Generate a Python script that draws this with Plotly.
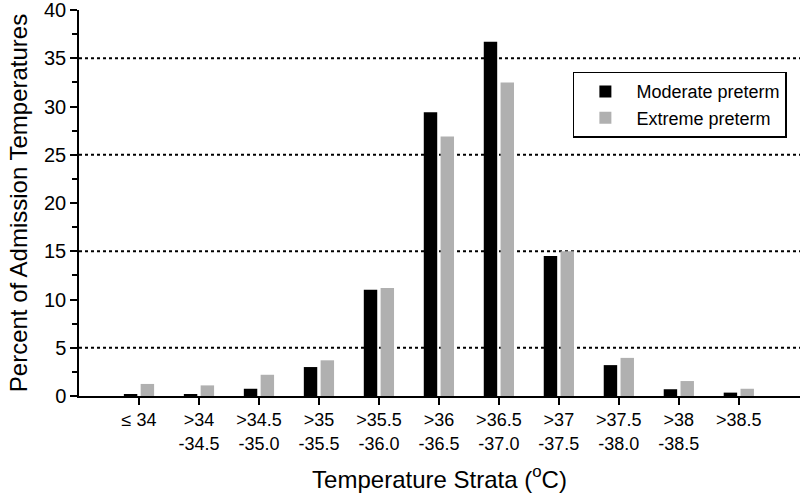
import plotly.graph_objects as go

# temperature strata (x categories)
strata = [
    "\u2264 34",
    ">34<br>-34.5",
    ">34.5<br>-35.0",
    ">35<br>-35.5",
    ">35.5<br>-36.0",
    ">36<br>-36.5",
    ">36.5<br>-37.0",
    ">37<br>-37.5",
    ">37.5<br>-38.0",
    ">38<br>-38.5",
    ">38.5",
]

# percent of admission temperatures
moderate = [0.2, 0.15, 0.75, 3.0, 11.0, 29.4, 36.7, 14.5, 3.2, 0.7, 0.35]
extreme = [1.25, 1.1, 2.2, 3.7, 11.2, 26.9, 32.5, 15.0, 3.95, 1.55, 0.75]

grid_levels = [5, 15, 25, 35]

FONT = "Liberation Sans, Arial, sans-serif"

fig = go.Figure()
fig.add_trace(go.Bar(x=strata, y=moderate, name="Moderate preterm",
                     marker=dict(color="#000000", line_width=0)))
fig.add_trace(go.Bar(x=strata, y=extreme, name="Extreme preterm",
                     marker=dict(color="#b0b0b0", line_width=0)))

# dotted reference lines
for lv in grid_levels:
    fig.add_shape(type="line", xref="paper", yref="y", x0=0, x1=1, y0=lv, y1=lv,
                  line=dict(color="black", width=2, dash="dot"), layer="below")

fig.update_layout(
    width=800, height=496,
    margin=dict(l=79, r=0, t=10, b=100, autoexpand=False),
    paper_bgcolor="white", plot_bgcolor="white",
    font=dict(family=FONT, color="black"),
    barmode="group", bargap=0.44, bargroupgap=0.2,
    showlegend=True,
    legend=dict(
        x=0.685, y=0.84, xanchor="left", yanchor="top",
        bordercolor="black", borderwidth=1.5, bgcolor="white",
        font=dict(size=18, family=FONT),
        itemwidth=52, tracegroupgap=0,
    ),
)

fig.update_xaxes(
    type="category", range=[-1, 11.02],
    showline=True, linecolor="black", linewidth=1.5,
    ticks="outside", ticklen=7, tickwidth=1.5, tickcolor="black",
    tickfont=dict(size=18), showgrid=False, zeroline=False,
    title=dict(text="Temperature Strata (<sup>o</sup>C)", font=dict(size=24), standoff=18),
)

fig.update_yaxes(
    range=[0, 40], dtick=5, tick0=0, ticklabeloverflow="allow",
    showline=True, linecolor="black", linewidth=1.5,
    ticks="outside", ticklen=7, tickwidth=1.5, tickcolor="black",
    minor=dict(dtick=2.5, ticks="outside", ticklen=5, tickwidth=1.5, tickcolor="black", showgrid=False),
    tickfont=dict(size=20), showgrid=False, zeroline=False,
    title=dict(text="Percent of Admission Temperatures", font=dict(size=24), standoff=10),
)

fig.write_html("out.html", config={"displayModeBar": False},
               post_script="document.body.style.margin='0';")
